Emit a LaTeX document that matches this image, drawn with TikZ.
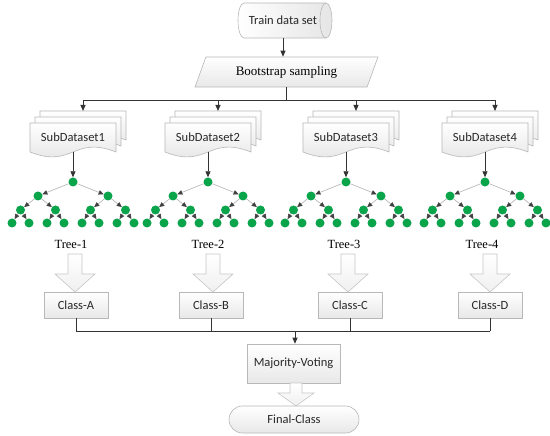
\documentclass[tikz,border=0pt]{standalone}
\usepackage{fontspec}
\setmainfont{Carlito}
\newfontfamily\serifmain{Liberation Serif}
\usetikzlibrary{shapes.geometric,shapes.misc,arrows.meta,calc}
\definecolor{treegreen}{RGB}{10,165,75}
\definecolor{txt}{RGB}{40,40,40}
\tikzset{
  box/.style={draw=black!28, line width=0.6pt, top color=white, bottom color=black!9,
    font=\fontsize{12.5}{14}\selectfont, text=txt, inner sep=0pt},
  doc/.style={draw=black!28, line width=0.6pt, top color=white, bottom color=black!12},
  ln/.style={draw=black!80, line width=0.8pt},
  conn/.style={ln, -{Triangle[length=6pt,width=5pt]}},
  tn/.style={circle, fill=treegreen, minimum size=9pt, inner sep=0pt},
  te/.style={draw=black!30, line width=0.6pt, -{Triangle[length=5pt,width=4.5pt,color=black!75]}},
  blk/.style={draw=black!22, line width=0.6pt, top color=white, bottom color=black!6},
  lbl/.style={font=\serifmain\fontsize{12.5}{14}\selectfont, text=black},
}
\newcommand\docshape[3]{%
  \draw[doc] (#1,#2) -- ({#1+#3},#2) -- ({#1+#3},{#2+29})
    .. controls ({#1+0.5*#3},{#2+29-17}) and ({#1+0.5*#3},{#2+29+17}) .. (#1,{#2+29}) -- cycle;}
\newcommand\mytree[2]{%
  \node[tn] (#1) at (#2,182) {};
  \foreach \s/\l in {-1/L,1/R}{%
    \node[tn] (#1\l) at ({#2+\s*35},196) {};
    \draw[te] (#1) -- (#1\l);
    \foreach \t/\m in {-1/L,1/R}{%
      \node[tn] (#1\l\m) at ({#2+\s*35+\t*17.5},210) {};
      \draw[te] (#1\l) -- (#1\l\m);
      \foreach \u/\n in {-1/L,1/R}{%
        \node[tn] (#1\l\m\n) at ({#2+\s*35+\t*17.5+\u*8.5},223) {};
        \draw[te] (#1\l\m) -- (#1\l\m\n);
      }}}}
\newcommand\stack[4]{% name, center x, label, tree name
  \docshape{#2-33}{111}{86}
  \docshape{#2-38}{117}{86}
  \docshape{#2-43}{123}{86}
  \node[font=\fontsize{12.5}{14}\selectfont, text=txt, inner sep=0pt] (#1) at (#2,137) {#3};
  \coordinate (#1top) at ({#2+10},111);
  \coordinate (#1h) at ({#2+10},100);
  \coordinate (#1bot) at (#2,152);
  \draw[conn] (#1h) -- (#1top);
  \mytree{#4}{#2}
  \draw[conn] (#1bot) -- (#4);}
\newcommand\blockarrow[6]{% x, top, headstart, tip, shaft half, head half
  \draw[blk] ({#1-#5},#2) -- ({#1+#5},#2) -- ({#1+#5},#3) -- ({#1+#6},#3) -- (#1,#4)
    -- ({#1-#6},#3) -- ({#1-#5},#3) -- cycle;}
\begin{document}
\begin{tikzpicture}[x=1pt,y=-1pt]
\useasboundingbox[fill=white] (0,0) rectangle (550,436);

% top: horizontal cylinder
\draw[draw=black!28, line width=0.6pt, left color=white, right color=black!10]
  (244,3) -- (326,3) arc[start angle=90, end angle=-90, x radius=6, y radius=-17.5]
  -- (244,38) arc[start angle=270, end angle=90, x radius=6, y radius=-17.5] -- cycle;
\draw[draw=black!28, line width=0.6pt] (326,3) arc[start angle=90, end angle=270, x radius=6, y radius=-17.5];
\node[minimum height=35pt, inner sep=0pt, font=\fontsize{12.5}{14}\selectfont, text=txt] (tds) at (283,20.5) {Train data set};
\node[shape=trapezium, trapezium left angle=60, trapezium right angle=120, trapezium stretches=true,
  draw=black!28, line width=0.6pt, top color=white, bottom color=black!9,
  minimum width=183pt, minimum height=30pt, inner sep=0pt,
  font=\serifmain\fontsize{13}{15}\selectfont, text=black] (bs) at (286.5,72) {Bootstrap sampling};
\draw[conn] (tds.south) -- (tds.south |- bs.north);

% stacks and trees
\stack{sA}{73}{SubDataset1}{tA}
\stack{sB}{208}{SubDataset2}{tB}
\stack{sC}{346}{SubDataset3}{tC}
\stack{sD}{485}{SubDataset4}{tD}
\draw[ln] (bs.south) -- (bs.south |- sAh);
\draw[ln] (sAh) -- (sDh);

% tree labels
\node[lbl] (lA) at (71,244) {Tree-1};
\node[lbl] (lB) at (208,244) {Tree-2};
\node[lbl] (lC) at (344,244) {Tree-3};
\node[lbl] (lD) at (482,244) {Tree-4};

% block arrows
\blockarrow{75}{254}{274}{292}{7}{20}
\blockarrow{213}{254}{274}{292}{7}{20}
\blockarrow{348}{254}{274}{292}{7}{20}
\blockarrow{490}{254}{274}{292}{7}{20}

% class boxes
\node[box, minimum width=64pt, minimum height=26pt] (cA) at (76,305) {Class-A};
\node[box, minimum width=64pt, minimum height=26pt] (cB) at (211,305) {Class-B};
\node[box, minimum width=64pt, minimum height=26pt] (cC) at (350,305) {Class-C};
\node[box, minimum width=64pt, minimum height=26pt] (cD) at (490,305) {Class-D};
\coordinate (jA) at (76,331);
\coordinate (jB) at (211,331);
\coordinate (jC) at (350,331);
\coordinate (jD) at (490,331);
\coordinate (jM) at (295,331);
\draw[ln] (cA.south) -- (jA);
\draw[ln] (cB.south) -- (jB);
\draw[ln] (cC.south) -- (jC);
\draw[ln] (cD.south) -- (jD);
\draw[ln] (jA) -- (jD);

% bottom
\node[box, minimum width=93pt, minimum height=39pt] (mv) at (293.5,363.5) {Majority-Voting};
\draw[conn] (jM) -- (jM |- mv.north);
\blockarrow{296}{383}{393}{406}{6}{18}
\node[box, shape=rounded rectangle, minimum width=130pt, minimum height=27pt] (fc) at (294,419.5) {Final-Class};
\end{tikzpicture}
\end{document}
